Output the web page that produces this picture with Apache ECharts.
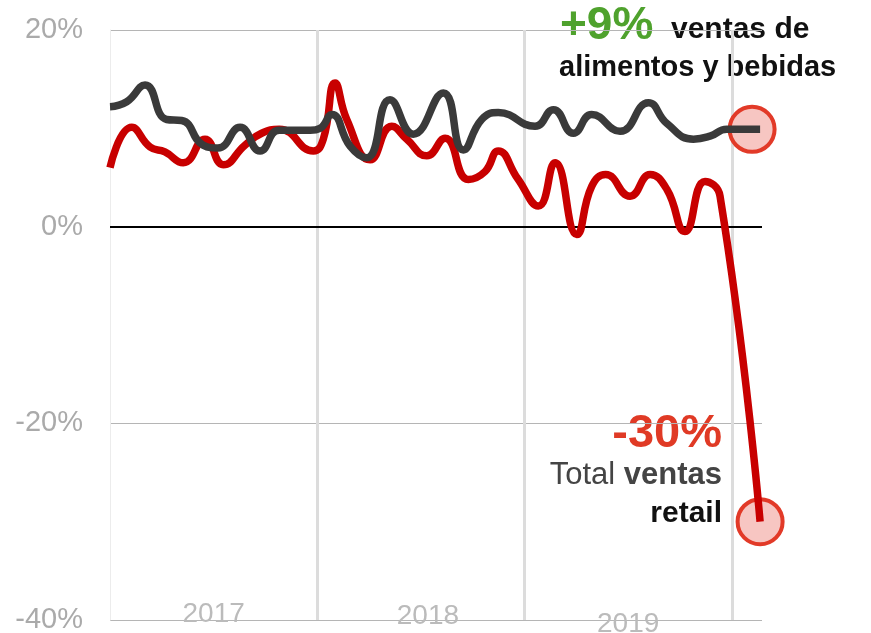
<!DOCTYPE html>
<html style="height: 100%">
<head>
<meta charset="utf-8">
<title>Ventas retail</title>
<script src="https://cdn.jsdelivr.net/npm/echarts@6/dist/echarts.min.js"></script>
</head>
<body style="height: 100%; margin: 0; background-color: #fff;">
<div id="container" style="width: 871px; height: 633px;"></div>
<script type="text/javascript">
// meses desde ene-2017 y variacion interanual en %
var alimX = [0, 0.97, 2.03, 3.28, 4.15, 5.39, 6.25, 7.53, 8.69, 9.8, 11.6, 12.16, 12.84, 13.9, 14.86, 16.21, 17.56, 19.3, 20.46, 21.52, 22.48, 24.61, 25.67, 26.83, 27.89, 29.53, 31.17, 32.24, 33.78, 34.74, 35.71, 37.64];
var alimY = [12.2, 12.7, 14.4, 10.9, 10.8, 8.3, 8.0, 10.1, 7.7, 9.8, 9.8, 10.0, 11.4, 8.2, 7.0, 12.9, 9.4, 13.6, 7.8, 10.9, 11.6, 10.2, 11.9, 9.5, 11.4, 9.7, 12.6, 10.5, 8.9, 9.2, 9.9, 9.9];

var totalX = [0, 1.26, 2.32, 3.18, 4.24, 5.5, 6.56, 7.82, 8.78, 9.8, 11.77, 12.35, 13.03, 13.71, 15.06, 16.31, 17.18, 18.34, 19.4, 20.75, 21.71, 22.48, 23.6, 24.8, 25.77, 27.02, 27.89, 28.7, 30.11, 31.27, 32.24, 33.29, 34.45, 35.32, 37.64];
var totalY = [6.0, 10.1, 8.1, 7.6, 6.5, 8.9, 6.3, 8.3, 9.5, 9.9, 7.7, 8.9, 14.6, 10.9, 6.8, 10.2, 8.9, 7.2, 9.0, 4.8, 5.6, 7.7, 4.9, 2.1, 6.5, -0.8, 4.1, 5.3, 3.1, 5.3, 3.8, -0.5, 4.6, 3.1, -30.0];

var years = ['2017', '2018', '2019'];
var yearStarts = [12, 24, 36];
var yTicks = [-40, -20, 0, 20];

function pairs(xs, ys) {
    var out = [];
    for (var i = 0; i < xs.length; i++) {
        out.push([xs[i], ys[i]]);
    }
    return out;
}

var dom = document.getElementById("container");
var myChart = echarts.init(dom);
var font = 'Liberation Sans, Arial, sans-serif';
var last = function (a) { return a[a.length - 1]; };

var vlines = [];
for (var k = 0; k < yearStarts.length; k++) {
    vlines.push({ xAxis: yearStarts[k], lineStyle: { color: '#dcdcdc', width: 3, type: 'solid' } });
}
vlines.push({ yAxis: 0, lineStyle: { color: '#000', width: 2, type: 'solid' } });

var option = {
    animation: false,
    grid: { left: 110, right: 109, top: 30, bottom: 13, outerBoundsMode: 'none', containLabel: false },
    xAxis: {
        type: 'value',
        min: 0,
        max: 37.75,
        interval: 6,
        axisLine: { show: false },
        axisTick: { show: false },
        splitLine: { show: false },
        axisLabel: {
            showMaxLabel: false,
            showMinLabel: false,
            margin: -20,
            fontFamily: font,
            formatter: function (v) {
                if (v === 6) return '{a|' + years[0] + '}';
                if (v === 18) return '{b|' + years[1] + '}';
                if (v === 30) return '{c|' + years[2] + '}';
                return '';
            },
            rich: {
                a: { color: '#bbb', fontSize: 28, fontFamily: font, padding: [0, 0, 2, 0] },
                b: { color: '#bbb', fontSize: 28, fontFamily: font, padding: [2, 0, 0, 14] },
                c: { color: '#bbb', fontSize: 28, fontFamily: font, padding: [10, 0, 0, 0] }
            }
        }
    },
    yAxis: {
        type: 'value',
        min: yTicks[0],
        max: yTicks[yTicks.length - 1],
        interval: 20,
        axisLine: { show: true, lineStyle: { color: '#ececec', width: 1 } },
        axisTick: { show: false },
        splitLine: { show: true, lineStyle: { color: '#b5b5b5', width: 1 } },
        axisLabel: {
            color: '#aaa',
            fontSize: 29,
            fontFamily: font,
            margin: 27,
            formatter: '{value}%'
        }
    },
    series: [
        {
            type: 'line',
            data: pairs(totalX, totalY),
            smooth: 0.5,
            showSymbol: false,
            z: 3,
            lineStyle: { color: '#c80000', width: 7.5 },
            markLine: {
                silent: true,
                symbol: 'none',
                label: { show: false },
                data: vlines,
                z: 1
            }
        },
        {
            type: 'line',
            data: pairs(alimX, alimY),
            smooth: 0.5,
            showSymbol: false,
            z: 4,
            lineStyle: { color: '#3a3a3a', width: 7.5 }
        },
        {
            type: 'scatter',
            z: 2,
            symbol: 'circle',
            symbolSize: 45,
            itemStyle: { color: '#f7c6c2', borderColor: '#e23a28', borderWidth: 4, opacity: 1 },
            data: [
                { value: [last(alimX), last(alimY)], symbolOffset: [-8, 0] },
                { value: [last(totalX), last(totalY)] }
            ]
        }
    ],
    graphic: [
        {
            type: 'text', left: 560, top: 3,
            style: { text: '+9%', font: 'bold 46px ' + font, fill: '#4fa22d' }
        },
        {
            type: 'text', left: 671, top: 15,
            style: { text: 'ventas de', font: 'bold 30px ' + font, fill: '#111' }
        },
        {
            type: 'text', left: 559, top: 53,
            style: { text: 'alimentos y bebidas', font: 'bold 29px ' + font, fill: '#111' }
        },
        {
            type: 'text', right: 149, top: 411,
            style: { text: '-30%', font: 'bold 47px ' + font, fill: '#e03a25' }
        },
        {
            type: 'text', right: 149, top: 460,
            style: {
                text: '{r|Total }{b|ventas}',
                rich: {
                    r: { font: '31px ' + font, fill: '#444' },
                    b: { font: 'bold 31px ' + font, fill: '#444' }
                }
            }
        },
        {
            type: 'text', right: 149, top: 499,
            style: { text: 'retail', font: 'bold 30px ' + font, fill: '#111' }
        }
    ]
};

myChart.setOption(option, true);
</script>
</body>
</html>
